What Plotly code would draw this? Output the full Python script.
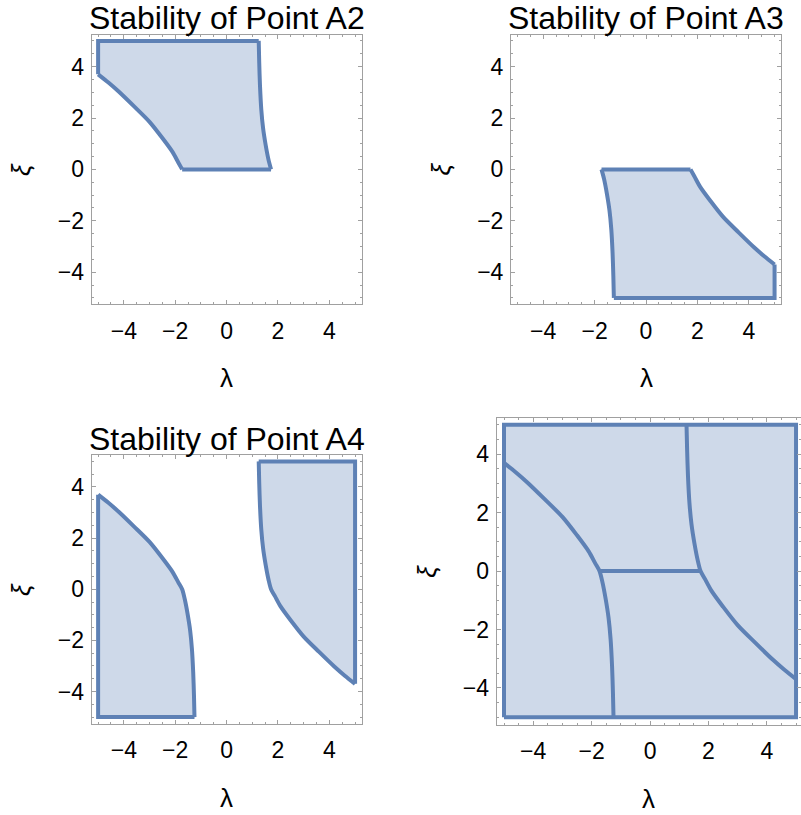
import plotly.graph_objects as go

# boundary curve on the left (lambda, xi)
left_lam = [-5.0, -4.6, -4.2, -3.6, -3.0, -2.5, -2.1, -1.88, -1.73, -1.63, -1.52, -1.42, -1.35, -1.30, -1.27, -1.25]
left_xi = [3.70, 3.38, 3.03, 2.45, 1.85, 1.22, 0.67, 0.27, 0.0, -0.38, -0.95, -1.60, -2.33, -3.25, -4.15, -5.0]

# boundary curve on the right, from the top edge down to the right edge
right_lam = [1.25, 1.27, 1.30, 1.35, 1.42, 1.52, 1.63, 1.73, 1.88, 2.1, 2.5, 3.0, 3.6, 4.2, 4.6, 5.0]
right_xi = [5.0, 4.15, 3.25, 2.33, 1.60, 0.95, 0.38, 0.0, -0.27, -0.67, -1.22, -1.85, -2.45, -3.03, -3.38, -3.70]

lam_lo, lam_hi = -5, 5
xi_lo, xi_hi = -5, 5

titles = ["Stability of Point A2", "Stability of Point A3", "Stability of Point A4", ""]

LINE = "#5E81B5"
FILL = "rgba(94,129,181,0.3)"
FRAME = "#A0A0A0"
FONT = "Liberation Sans, Arial, sans-serif"
LW = 4


def region(x, y, ax):
	return go.Scatter(x=x, y=y, xaxis="x" + ax, yaxis="y" + ax, mode="lines", fill="toself",
		fillcolor=FILL, line=dict(width=0), hoverinfo="skip", showlegend=False)


def edges(pieces, ax):
	x, y = [], []
	for px, py in pieces:
		x += list(px) + [None]
		y += list(py) + [None]
	return go.Scatter(x=x, y=y, xaxis="x" + ax, yaxis="y" + ax, mode="lines",
		line=dict(color=LINE, width=LW), hoverinfo="skip", showlegend=False)


def curve(x, y, ax):
	return go.Scatter(x=x, y=y, xaxis="x" + ax, yaxis="y" + ax, mode="lines",
		line=dict(color=LINE, width=LW, shape="spline", smoothing=0.8), hoverinfo="skip", showlegend=False)


def main():
	# split curves at xi = 0
	iL = left_xi.index(0.0)
	iR = right_xi.index(0.0)
	L_up_x, L_up_y = left_lam[:iL + 1], left_xi[:iL + 1]
	L_dn_x, L_dn_y = left_lam[iL:], left_xi[iL:]
	R_up_x, R_up_y = right_lam[:iR + 1], right_xi[:iR + 1]
	R_dn_x, R_dn_y = right_lam[iR:], right_xi[iR:]
	mid = ([L_up_x[-1], R_up_x[-1]], [0, 0])

	fig = go.Figure()

	# A2
	x = [lam_lo] + L_up_x + R_up_x[::-1] + [lam_lo]
	y = [xi_hi] + L_up_y + R_up_y[::-1] + [xi_hi]
	fig.add_trace(region(x, y, ""))
	fig.add_trace(edges([([lam_lo, lam_lo, R_up_x[0]], [L_up_y[0], xi_hi, xi_hi]), mid], ""))
	fig.add_trace(curve(L_up_x, L_up_y, ""))
	fig.add_trace(curve(R_up_x, R_up_y, ""))

	# A3
	x = [L_dn_x[0]] + R_dn_x + [lam_hi, L_dn_x[-1]] + L_dn_x[::-1]
	y = [L_dn_y[0]] + R_dn_y + [xi_lo, xi_lo] + L_dn_y[::-1]
	fig.add_trace(region(x, y, "2"))
	fig.add_trace(edges([([lam_hi, lam_hi, L_dn_x[-1]], [R_dn_y[-1], xi_lo, xi_lo]), mid], "2"))
	fig.add_trace(curve(L_dn_x, L_dn_y, "2"))
	fig.add_trace(curve(R_dn_x, R_dn_y, "2"))

	# A4
	x = left_lam + [lam_lo, lam_lo]
	y = left_xi + [xi_lo, left_xi[0]]
	fig.add_trace(region(x, y, "3"))
	x = right_lam + [lam_hi, right_lam[0]]
	y = right_xi + [xi_hi, xi_hi]
	fig.add_trace(region(x, y, "3"))
	fig.add_trace(edges([([left_lam[-1], lam_lo, lam_lo], [xi_lo, xi_lo, left_xi[0]]),
		([right_lam[0], lam_hi, lam_hi], [xi_hi, xi_hi, right_xi[-1]])], "3"))
	fig.add_trace(curve(left_lam, left_xi, "3"))
	fig.add_trace(curve(right_lam, right_xi, "3"))

	# all together
	sq_x = [lam_lo, lam_hi, lam_hi, lam_lo, lam_lo]
	sq_y = [xi_lo, xi_lo, xi_hi, xi_hi, xi_lo]
	fig.add_trace(region(sq_x, sq_y, "4"))
	fig.add_trace(edges([(sq_x, sq_y), mid], "4"))
	fig.add_trace(curve(left_lam, left_xi, "4"))
	fig.add_trace(curve(right_lam, right_xi, "4"))

	W, H = 801, 815
	boxes = [
		(91.7, 361.5, 34.5, 304.3),
		(511.0, 781.0, 34.5, 304.3),
		(91.7, 361.5, 455.0, 723.5),
		(496.7, 801.0, 417.5, 724.5),
	]
	xranges = [[-5.25, 5.25]] * 3 + [[-5.25, 5.17]]

	axis_style = dict(showgrid=False, zeroline=False, showline=True, mirror="ticks",
		linecolor=FRAME, linewidth=1, ticks="inside", ticklen=4, tickwidth=1, tickcolor=FRAME,
		tick0=0, dtick=2, tickfont=dict(family=FONT, size=23, color="black"),
		minor=dict(ticks="inside", ticklen=2, tickcolor=FRAME, dtick=0.5, tick0=0, showgrid=False))

	layout = dict(width=W, height=H, margin=dict(l=0, r=0, t=0, b=0),
		plot_bgcolor="white", paper_bgcolor="white", showlegend=False, annotations=[])
	for k, (x0, x1, y0, y1) in enumerate(boxes):
		s = "" if k == 0 else str(k + 1)
		layout["xaxis" + s] = dict(axis_style, domain=[x0 / W, x1 / W], range=xranges[k],
			anchor="y" + s, fixedrange=True, ticklabelstandoff=6)
		layout["yaxis" + s] = dict(axis_style, domain=[1 - y1 / H, 1 - y0 / H], range=[-5.25, 5.25],
			anchor="x" + s, fixedrange=True, ticklabelstandoff=2)
		ax_x = "x" + s + " domain"
		ax_y = "y" + s + " domain"
		layout["annotations"].append(dict(text="λ", xref=ax_x, yref=ax_y, x=0.5, y=0, yshift=-74,
			showarrow=False, font=dict(family=FONT, size=26, color="black"), yanchor="middle"))
		layout["annotations"].append(dict(text="<i>ξ</i>", xref=ax_x, yref=ax_y, x=0, y=0.5, xshift=-70,
			textangle=-90, showarrow=False, font=dict(family=FONT, size=26, color="black"), xanchor="center"))
		if titles[k]:
			layout["annotations"].append(dict(text=titles[k], xref=ax_x, yref=ax_y, x=0.5, y=1,
				yshift=36, yanchor="top",
				showarrow=False, font=dict(family=FONT, size=32, color="black")))

	fig.update_layout(**layout)
	# the browser's default 8px body margin would push the figure off the window
	fig.write_html("out.html", config={"displayModeBar": False},
		post_script="document.body.style.margin = '0';")


if __name__ == '__main__':
	main()
